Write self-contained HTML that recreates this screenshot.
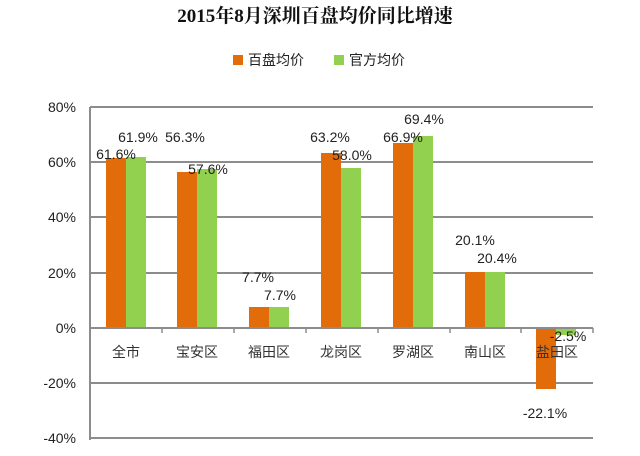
<!DOCTYPE html>
<html><head><meta charset="utf-8"><style>body{margin:0;background:#fff}</style></head><body>
<svg width="640" height="451" xmlns="http://www.w3.org/2000/svg" font-family="'Liberation Sans','Noto Sans CJK SC',sans-serif">
<rect width="640" height="451" fill="#fff"/>
<text x="315" y="22" text-anchor="middle" font-family="'Liberation Serif','Noto Serif CJK SC',serif" font-weight="bold" font-size="19" fill="#111">2015年8月深圳百盘均价同比增速</text>
<rect x="233" y="55" width="10" height="10" fill="#E36C0A"/>
<text x="248" y="65" font-size="14" fill="#222">百盘均价</text>
<rect x="334" y="55" width="10" height="10" fill="#92D050"/>
<text x="349" y="65" font-size="14" fill="#222">官方均价</text>
<g stroke="#8c8c8c" stroke-width="2">
<line x1="90" y1="107" x2="593" y2="107"/><line x1="90" y1="162" x2="593" y2="162"/>
<line x1="90" y1="217" x2="593" y2="217"/><line x1="90" y1="273" x2="593" y2="273"/>
<line x1="90" y1="383" x2="593" y2="383"/><line x1="90" y1="438" x2="593" y2="438"/>
<line x1="90" y1="107" x2="90" y2="440"/>
</g>
<g font-size="14" fill="#222" text-anchor="end">
<text x="76" y="112">80%</text><text x="76" y="167">60%</text><text x="76" y="222">40%</text>
<text x="76" y="278">20%</text><text x="76" y="333">0%</text><text x="76" y="388">-20%</text><text x="76" y="443">-40%</text>
</g>
<g>
<rect x="106" y="158" width="20" height="170" fill="#E36C0A"/><rect x="126" y="157" width="20" height="171" fill="#92D050"/>
<rect x="177" y="172" width="20" height="156" fill="#E36C0A"/><rect x="197" y="169" width="20" height="159" fill="#92D050"/>
<rect x="249" y="307" width="20" height="21" fill="#E36C0A"/><rect x="269" y="307" width="20" height="21" fill="#92D050"/>
<rect x="321" y="153" width="20" height="175" fill="#E36C0A"/><rect x="341" y="168" width="20" height="160" fill="#92D050"/>
<rect x="393" y="143" width="20" height="185" fill="#E36C0A"/><rect x="413" y="136" width="20" height="192" fill="#92D050"/>
<rect x="465" y="272" width="20" height="56" fill="#E36C0A"/><rect x="485" y="272" width="20" height="56" fill="#92D050"/>
<rect x="536" y="328" width="20" height="61" fill="#E36C0A"/><rect x="556" y="328" width="20" height="7" fill="#92D050"/>
</g>
<line x1="90" y1="328" x2="593" y2="328" stroke="#8c8c8c" stroke-width="2"/>
<g stroke="#8c8c8c" stroke-width="1.5">
<line x1="162" y1="328" x2="162" y2="333"/><line x1="234" y1="328" x2="234" y2="333"/><line x1="306" y1="328" x2="306" y2="333"/>
<line x1="378" y1="328" x2="378" y2="333"/><line x1="450" y1="328" x2="450" y2="333"/><line x1="521" y1="328" x2="521" y2="333"/><line x1="593" y1="328" x2="593" y2="333"/>
</g>
<g font-size="14" fill="#333" text-anchor="middle">
<text x="126" y="357">全市</text><text x="197" y="357">宝安区</text><text x="269" y="357">福田区</text>
<text x="341" y="357">龙岗区</text><text x="413" y="357">罗湖区</text><text x="485" y="357">南山区</text><text x="557" y="357">盐田区</text>
</g>
<g font-size="14" fill="#222" text-anchor="middle">
<text x="116" y="159">61.6%</text><text x="138" y="142">61.9%</text>
<text x="185" y="142">56.3%</text><text x="208" y="174">57.6%</text>
<text x="258" y="282">7.7%</text><text x="280" y="300">7.7%</text>
<text x="330" y="142">63.2%</text><text x="352" y="160">58.0%</text>
<text x="403" y="142">66.9%</text><text x="424" y="124">69.4%</text>
<text x="475" y="245">20.1%</text><text x="497" y="263">20.4%</text>
<text x="545" y="418">-22.1%</text><text x="568" y="341">-2.5%</text>
</g>
</svg>
</body></html>
